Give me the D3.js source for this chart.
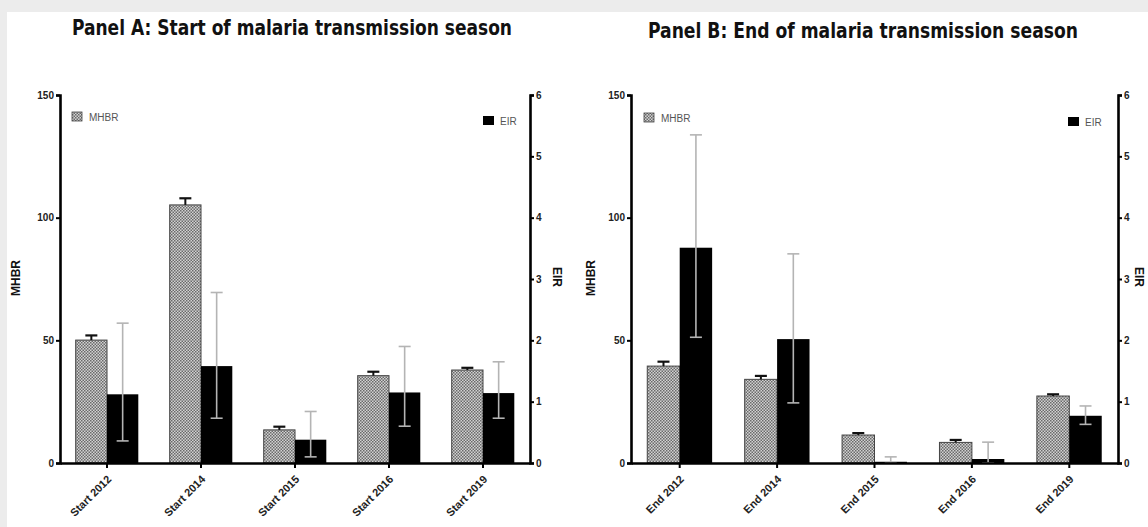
<!DOCTYPE html>
<html>
<head>
<meta charset="utf-8">
<script src="https://cdn.jsdelivr.net/npm/d3@7"></script>
<style>
  html, body { margin: 0; padding: 0; background: #fff; }
  svg { display: block; }
  .tick text { font-family: "Liberation Sans", Arial, sans-serif; }
</style>
</head>
<body>
<svg id="chart" width="1148" height="527"></svg>
<script>
// Panel A: start of transmission season
const catsA = ["Start 2012", "Start 2014", "Start 2015", "Start 2016", "Start 2019"];
const mhbrA = [50.1, 105.2, 13.5, 35.6, 37.9];
const mhbrErrA = [1.9, 2.7, 1.3, 1.6, 0.9];
const eirA = [1.12, 1.58, 0.38, 1.15, 1.14];
const eirLoA = [0.36, 0.73, 0.10, 0.60, 0.73];
const eirHiA = [2.28, 2.78, 0.84, 1.90, 1.65];

// Panel B: end of transmission season
const catsB = ["End 2012", "End 2014", "End 2015", "End 2016", "End 2019"];
const mhbrB = [39.5, 34.1, 11.4, 8.4, 27.3];
const mhbrErrB = [1.8, 1.4, 0.8, 1.0, 0.7];
const eirB = [3.51, 2.02, 0.02, 0.065, 0.77];
const eirLoB = [2.05, 0.98, 0.0, 0.0, 0.63];
const eirHiB = [5.35, 3.41, 0.10, 0.34, 0.93];

const leftTicks = [0, 50, 100, 150];
const rightTicks = [0, 1, 2, 3, 4, 5, 6];

const titles = ["Panel A: Start of malaria transmission season",
                "Panel B: End of malaria transmission season"];

const svg = d3.select("#chart");

// page frame
svg.append("rect").attr("width", 1148).attr("height", 527).attr("fill", "#ececec");
svg.append("rect").attr("x", 7).attr("y", 12).attr("width", 1141).attr("height", 515).attr("fill", "#ffffff");

// checkered fill used for the MHBR bars
const defs = svg.append("defs");
const pat = defs.append("pattern").attr("id", "checker")
  .attr("width", 3).attr("height", 3).attr("patternUnits", "userSpaceOnUse");
pat.append("rect").attr("width", 3).attr("height", 3).attr("fill", "#d2d2d2");
pat.append("rect").attr("width", 1.5).attr("height", 1.5).attr("fill", "#6a6a6a");
pat.append("rect").attr("x", 1.5).attr("y", 1.5).attr("width", 1.5).attr("height", 1.5).attr("fill", "#6a6a6a");

const panels = [
  { cats: catsA, mhbr: mhbrA, mhbrErr: mhbrErrA, eir: eirA, lo: eirLoA, hi: eirHiA,
    x0: 60, x1: 530, title: titles[0], titleX: 72, titleW: 440, titleY: 35,
    yTitleL: 20, yTitleR: 553, legM: [72, 117], legE: [483, 121] },
  { cats: catsB, mhbr: mhbrB, mhbrErr: mhbrErrB, eir: eirB, lo: eirLoB, hi: eirHiB,
    x0: 631, x1: 1118, title: titles[1], titleX: 648, titleW: 430, titleY: 38,
    yTitleL: 595, yTitleR: 1135, legM: [644, 118], legE: [1068, 122] }
];

const yTop = 95, yBot = 463;
const yL = d3.scaleLinear().domain([0, 150]).range([yBot, yTop]);
const yR = d3.scaleLinear().domain([0, 6]).range([yBot, yTop]);

const font = '"Liberation Sans", Arial, sans-serif';

panels.forEach(p => {
  const g = svg.append("g");
  const x = d3.scaleBand().domain(p.cats).range([p.x0, p.x1]).padding(0);
  const bw = x.bandwidth() * 0.333;
  const cx = c => x(c) + x.bandwidth() / 2;

  // title
  g.append("text").attr("x", p.titleX).attr("y", p.titleY)
    .attr("textLength", p.titleW).attr("lengthAdjust", "spacingAndGlyphs")
    .style("font-family", '"Liberation Sans Narrow", "Arial Narrow", "DejaVu Sans Condensed", sans-serif')
    .style("font-weight", "bold").style("font-size", "22px").attr("fill", "#111")
    .text(p.title);

  // MHBR bars
  g.selectAll(".mb").data(p.cats).join("rect")
    .attr("x", c => cx(c) - bw).attr("width", bw)
    .attr("y", (c, i) => yL(p.mhbr[i])).attr("height", (c, i) => yBot - yL(p.mhbr[i]))
    .attr("fill", "url(#checker)").attr("stroke", "#444").attr("stroke-width", 1);

  // MHBR error bars (upper)
  p.cats.forEach((c, i) => {
    const xc = cx(c) - bw / 2;
    const yt = yL(p.mhbr[i] + p.mhbrErr[i]);
    g.append("line").attr("x1", xc).attr("x2", xc).attr("y1", yL(p.mhbr[i])).attr("y2", yt)
      .attr("stroke", "#111").attr("stroke-width", 2);
    g.append("line").attr("x1", xc - 6).attr("x2", xc + 6).attr("y1", yt).attr("y2", yt)
      .attr("stroke", "#111").attr("stroke-width", 2.2);
  });

  // EIR bars
  g.selectAll(".eb").data(p.cats).join("rect")
    .attr("x", c => cx(c)).attr("width", bw)
    .attr("y", (c, i) => yR(p.eir[i])).attr("height", (c, i) => yBot - yR(p.eir[i]))
    .attr("fill", "#000");

  // EIR error bars (lower to upper)
  p.cats.forEach((c, i) => {
    const xc = cx(c) + bw / 2;
    const ylo = yR(p.lo[i]), yhi = yR(p.hi[i]);
    g.append("line").attr("x1", xc).attr("x2", xc).attr("y1", ylo).attr("y2", yhi)
      .attr("stroke", "#b4b4b4").attr("stroke-width", 1.6);
    [ylo, yhi].forEach(yy => g.append("line").attr("x1", xc - 6).attr("x2", xc + 6)
      .attr("y1", yy).attr("y2", yy).attr("stroke", "#b4b4b4").attr("stroke-width", 1.6));
  });

  // axes
  const axL = g.append("g").attr("transform", `translate(${p.x0},0)`)
    .call(d3.axisLeft(yL).tickValues(leftTicks).tickSize(4).tickPadding(2));
  const axR = g.append("g").attr("transform", `translate(${p.x1},0)`)
    .call(d3.axisRight(yR).tickValues(rightTicks).tickFormat(d3.format("d")).tickSize(4).tickPadding(2));
  const axB = g.append("g").attr("transform", `translate(0,${yBot})`)
    .call(d3.axisBottom(x).tickSize(5).tickSizeOuter(0));
  [axL, axR, axB].forEach(a => {
    a.select(".domain").attr("stroke", "#000").attr("stroke-width", 2.6);
    a.selectAll(".tick line").attr("stroke", "#000").attr("stroke-width", 2);
    a.selectAll(".tick text").style("font-size", "10px").style("font-weight", "bold").attr("fill", "#222");
  });
  axB.selectAll(".tick text")
    .style("font-size", "11px")
    .attr("text-anchor", "end").attr("dy", null).attr("y", null)
    .attr("transform", "translate(5,17) rotate(-45)");

  // axis titles
  g.append("text").attr("transform", `translate(${p.yTitleL},278) rotate(-90)`)
    .attr("text-anchor", "middle").style("font-family", font).style("font-weight", "bold")
    .style("font-size", "12px").attr("fill", "#111").text("MHBR");
  g.append("text").attr("transform", `translate(${p.yTitleR},277) rotate(90)`)
    .attr("text-anchor", "middle").style("font-family", font).style("font-weight", "bold")
    .style("font-size", "12px").attr("fill", "#111").text("EIR");

  // legends
  g.append("rect").attr("x", p.legM[0]).attr("y", p.legM[1] - 5).attr("width", 10).attr("height", 9)
    .attr("fill", "url(#checker)").attr("stroke", "#444").attr("stroke-width", 0.8);
  g.append("text").attr("x", p.legM[0] + 17).attr("y", p.legM[1] + 3.5)
    .style("font-family", font).style("font-size", "10px").attr("fill", "#555").text("MHBR");
  g.append("rect").attr("x", p.legE[0]).attr("y", p.legE[1] - 5).attr("width", 11).attr("height", 9)
    .attr("fill", "#000");
  g.append("text").attr("x", p.legE[0] + 17).attr("y", p.legE[1] + 3.5)
    .style("font-family", font).style("font-size", "10px").attr("fill", "#555").text("EIR");
});
</script>
</body>
</html>
